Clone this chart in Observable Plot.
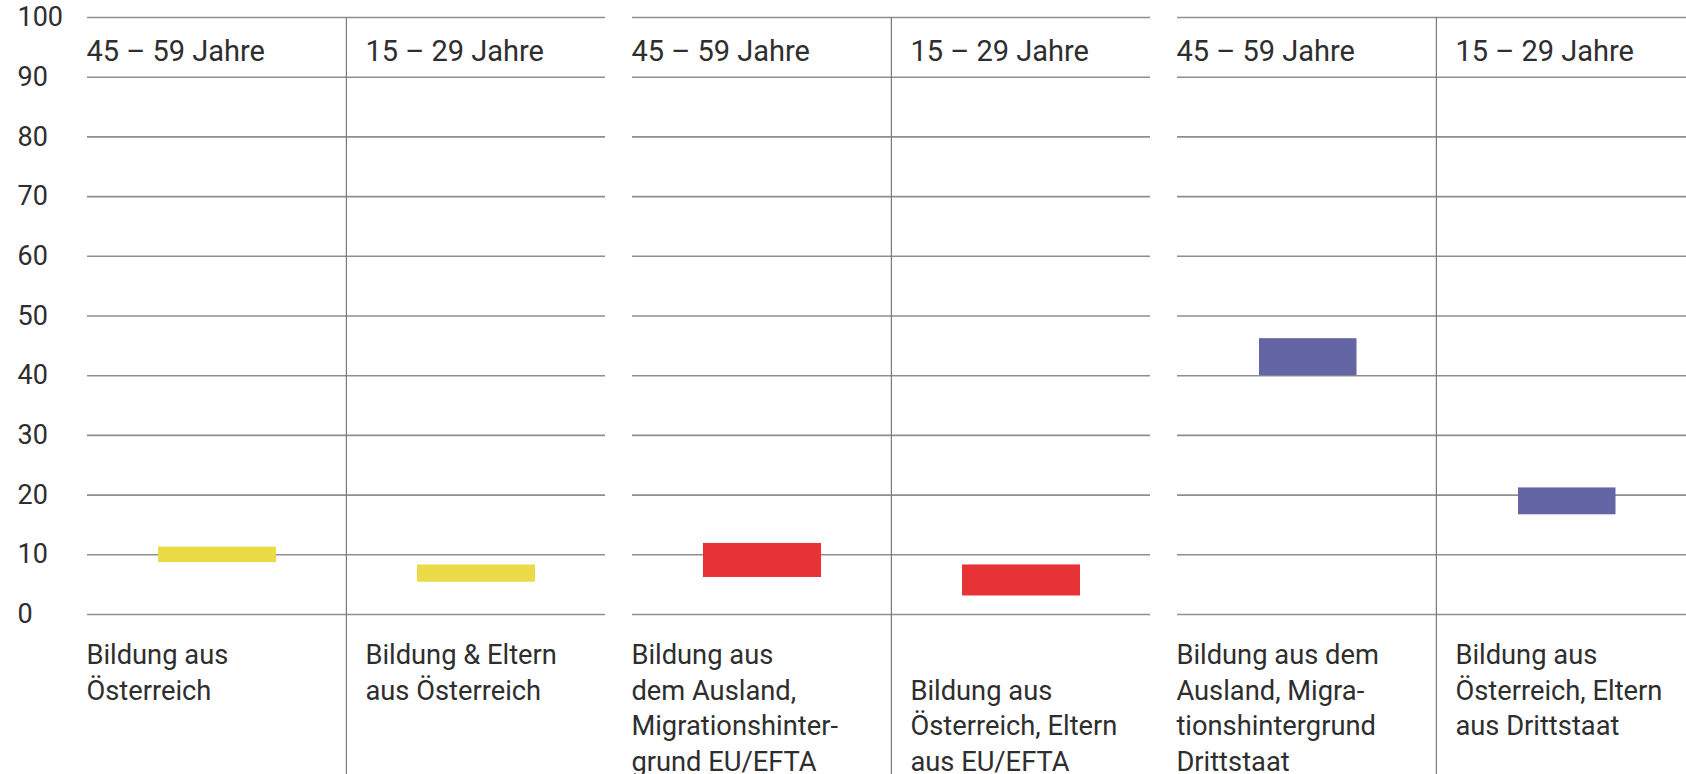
<!DOCTYPE html>
<html>
<head>
<meta charset="utf-8">
<script src="https://cdn.jsdelivr.net/npm/d3@7"></script>
<script src="https://cdn.jsdelivr.net/npm/@observablehq/plot@0.6"></script>
<style>
  html, body { margin: 0; padding: 0; background: #fff; overflow: hidden; width: 1686px; height: 774px; }
  #chart { width: 1720px; }
  #chart svg { display: block; max-width: none !important; }
</style>
</head>
<body>
<div id="chart"></div>
<script>
// ---- data ----
const groups = ["Österreich", "EU/EFTA", "Drittstaat"];
const ages = ["45 – 59 Jahre", "15 – 29 Jahre"];
const lowValues  = [8.7, 5.4, 6.2, 3.1, 40.0, 16.7];
const highValues = [11.3, 8.3, 11.9, 8.3, 46.2, 21.2];
const bottomLabels = [
  "Bildung aus\nÖsterreich",
  "Bildung & Eltern\naus Österreich",
  "Bildung aus\ndem Ausland,\nMigrationshinter-\ngrund EU/EFTA",
  "\nBildung aus\nÖsterreich, Eltern\naus EU/EFTA",
  "Bildung aus dem\nAusland, Migra-\ntionshintergrund\nDrittstaat",
  "Bildung aus\nÖsterreich, Eltern\naus Drittstaat"
];
const groupColors = ["#ebdc47", "#e73236", "#6365a4"];
const yTicks = [0, 10, 20, 30, 40, 50, 60, 70, 80, 90, 100];

const data = lowValues.map((lo, i) => ({
  group: groups[Math.floor(i / 2)],
  age: ages[i % 2],
  lo,
  hi: highValues[i],
  label: bottomLabels[i]
}));

// ---- layout ----
const width = 1697, height = 774;
const marginLeft = 86, marginRight = 1, marginTop = 17, marginBottom = 160;
const fxPad = 0.05;
const step = (width - marginLeft - marginRight) / (groups.length - fxPad);
const facetBw = step * (1 - fxPad);
const bw = facetBw / ages.length;

const font = "Roboto, 'Open Sans', sans-serif";
const textColor = "#2e2e2e";

const first = data.filter(d => d.age === ages[0]);
const second = data.filter(d => d.age === ages[1]);
const narrow = d => d.group === groups[2];

const chart = Plot.plot({
  width, height, marginLeft, marginRight, marginTop, marginBottom,
  style: { fontFamily: font, background: "#fff", color: textColor },
  fx: { domain: groups, paddingInner: fxPad, paddingOuter: 0, axis: null, label: null },
  x: { domain: ages, padding: 0, axis: null, label: null },
  y: { domain: [0, 100], axis: null, label: null },
  color: { domain: groups, range: groupColors },
  marks: [
    Plot.gridY(yTicks, { stroke: "#8e8e8e", strokeOpacity: 1, strokeWidth: 1.6 }),
    Plot.axisY(yTicks, {
      tickSize: 0, tickPadding: 70, textAnchor: "start",
      fontSize: 27, fill: textColor, label: null
    }),
    Plot.ruleX(second, {
      fx: "group", x: "age", dx: -bw / 2,
      y1: () => 100, y2: () => -30,
      stroke: "#7a7a7a", strokeWidth: 1.2
    }),
    Plot.barY(data.filter(d => !narrow(d)), {
      fx: "group", x: "age", y1: "lo", y2: "hi", fill: "group",
      insetLeft: 71, insetRight: 70
    }),
    Plot.barY(data.filter(narrow), {
      fx: "group", x: "age", y1: "lo", y2: "hi", fill: "group",
      insetLeft: 82, insetRight: 79.5
    }),
    Plot.text(first, {
      fx: "group", x: "age", frameAnchor: "top", text: "age",
      textAnchor: "start", lineAnchor: "top", dx: -bw / 2 - 1, dy: 23,
      fontSize: 29, fill: textColor
    }),
    Plot.text(second, {
      fx: "group", x: "age", frameAnchor: "top", text: "age",
      textAnchor: "start", lineAnchor: "top", dx: -bw / 2 + 19, dy: 23,
      fontSize: 29, fill: textColor
    }),
    Plot.text(first, {
      fx: "group", x: "age", frameAnchor: "bottom", text: "label",
      textAnchor: "start", lineAnchor: "top", dx: -bw / 2 - 1, dy: 24,
      fontSize: 27.3, lineHeight: 1.31, fill: textColor
    }),
    Plot.text(second, {
      fx: "group", x: "age", frameAnchor: "bottom", text: "label",
      textAnchor: "start", lineAnchor: "top", dx: -bw / 2 + 19, dy: 24,
      fontSize: 27.3, lineHeight: 1.31, fill: textColor
    })
  ]
});

document.getElementById("chart").append(chart);
</script>
</body>
</html>
